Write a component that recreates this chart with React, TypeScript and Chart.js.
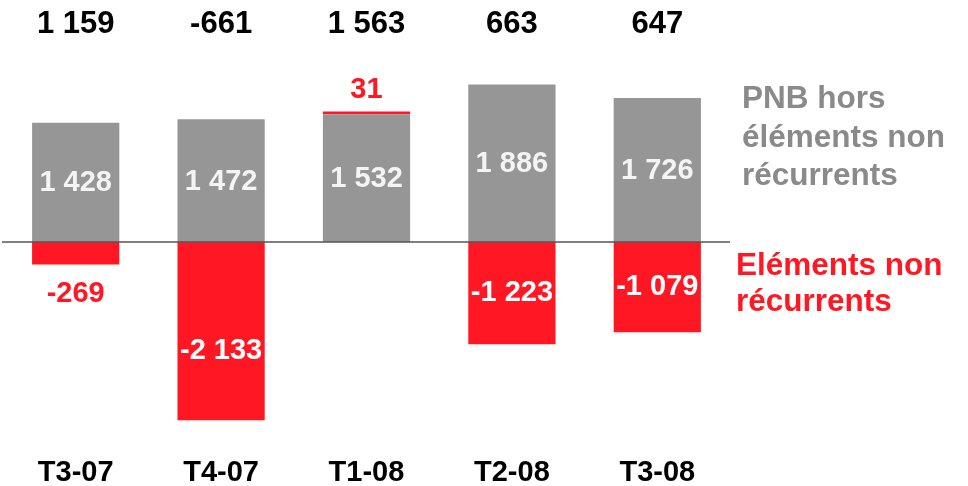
import React, { useEffect, useRef } from "react";
import { Chart, registerables } from "chart.js";

Chart.register(...registerables);

const categories = ["T3-07", "T4-07", "T1-08", "T2-08", "T3-08"];
const pnbHors = [1428, 1472, 1532, 1886, 1726];
const nonRecurrents = [-269, -2133, 31, -1223, -1079];
const totals = [1159, -661, 1563, 663, 647];
const legendGray = ["PNB hors", "éléments non", "récurrents"];
const legendRed = ["Eléments non", "récurrents"];

const GRAY = "#969696";
const RED = "#ff1824";
const FONT = "'Liberation Sans', Arial, sans-serif";

const fmt = (v: number) => {
  const s = Math.abs(v).toString().replace(/\B(?=(\d{3})+(?!\d))/g, " ");
  return (v < 0 ? "-" : "") + s;
};

const labelPlugin = {
  id: "labels",
  afterDatasetsDraw(chart: any) {
    const ctx = chart.ctx;
    const area = chart.chartArea;
    const y = chart.scales.y;
    const zeroY = y.getPixelForValue(0);
    ctx.save();
    ctx.strokeStyle = "#555555";
    ctx.lineWidth = 1.5;
    ctx.beginPath();
    ctx.moveTo(2, zeroY);
    ctx.lineTo(area.right, zeroY);
    ctx.stroke();

    const m0 = chart.getDatasetMeta(0);
    const m1 = chart.getDatasetMeta(1);
    ctx.textAlign = "center";
    ctx.textBaseline = "middle";
    m0.data.forEach((bar: any, i: number) => {
      ctx.font = `bold 29px ${FONT}`;
      ctx.fillStyle = "#f4f4f4";
      ctx.fillText(fmt(pnbHors[i]), bar.x, (bar.y + bar.base) / 2 + 1);
    });
    m1.data.forEach((bar: any, i: number) => {
      const v = nonRecurrents[i];
      ctx.font = `bold 29px ${FONT}`;
      const top = Math.min(bar.y, bar.base);
      const bottom = Math.max(bar.y, bar.base);
      if (Math.abs(v) < 600) {
        ctx.fillStyle = RED;
        if (v < 0) ctx.fillText(fmt(v), bar.x, bottom + 29);
        else ctx.fillText(fmt(v), bar.x, top - 22);
      } else {
        ctx.fillStyle = "#ffffff";
        const off = Math.abs(v) > 2000 ? 20 : 0;
        ctx.fillText(fmt(v), bar.x, (top + bottom) / 2 + off);
      }
    });
    ctx.fillStyle = "#000000";
    ctx.textBaseline = "alphabetic";
    m0.data.forEach((bar: any, i: number) => {
      ctx.font = `bold 31px ${FONT}`;
      ctx.fillText(fmt(totals[i]), bar.x, 33);
      ctx.font = `bold 29px ${FONT}`;
      ctx.fillText(categories[i], bar.x, 481);
    });
    ctx.textAlign = "left";
    ctx.font = `bold 31.5px ${FONT}`;
    ctx.fillStyle = "#8a8a8a";
    legendGray.forEach((t, k) => ctx.fillText(t, 742, 108 + k * 38.5));
    ctx.fillStyle = RED;
    legendRed.forEach((t, k) => ctx.fillText(t, 736, 275 + k * 35.5));
    ctx.restore();
  },
};

export default function App() {
  const ref = useRef<HTMLCanvasElement | null>(null);
  useEffect(() => {
    if (!ref.current) return;
    const chart = new Chart(ref.current, {
      type: "bar",
      data: {
        labels: categories,
        datasets: [
          { label: "PNB hors éléments non récurrents", data: pnbHors, backgroundColor: GRAY, stack: "s" },
          { label: "Eléments non récurrents", data: nonRecurrents, backgroundColor: RED, stack: "s" },
        ],
      },
      options: {
        animation: false,
        responsive: false,
        maintainAspectRatio: false,
        layout: { padding: { left: 3, right: 238, top: 50, bottom: 46 } },
        datasets: { bar: { barPercentage: 0.6, categoryPercentage: 1 } },
        plugins: { legend: { display: false }, tooltip: { enabled: false } },
        scales: {
          x: { stacked: true, display: false },
          y: { stacked: true, display: false, min: -2370, max: 2300 },
        },
      },
      plugins: [labelPlugin],
    });
    return () => chart.destroy();
  }, []);
  return (
    <div style={{ position: "absolute", left: 0, top: 0, width: 968, height: 486, background: "#fff" }}>
      <canvas ref={ref} width={968} height={486} style={{ display: "block" }} />
    </div>
  );
}
